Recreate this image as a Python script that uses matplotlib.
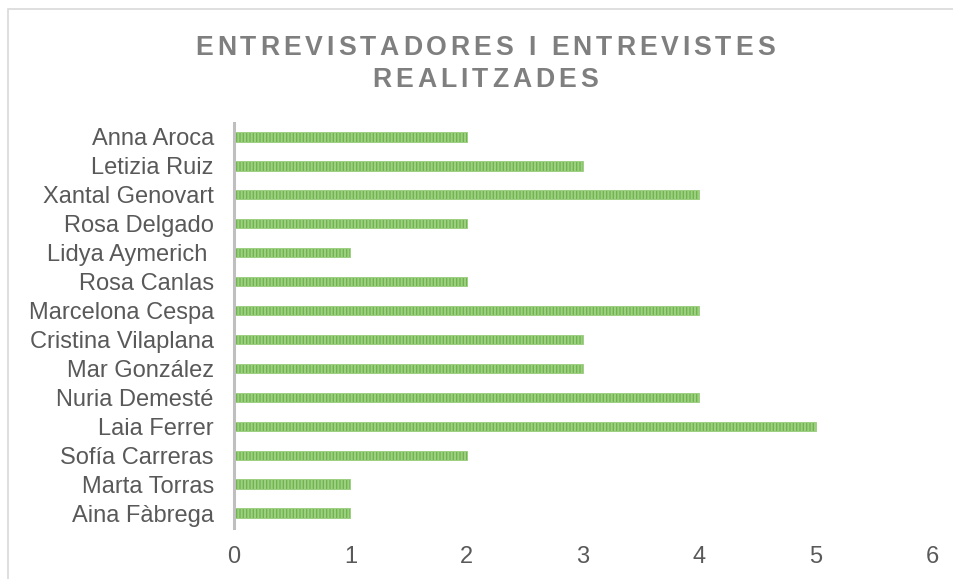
import matplotlib
matplotlib.use("Agg")
import matplotlib.pyplot as plt
from matplotlib.font_manager import FontProperties, findfont, get_font
from matplotlib.patches import Rectangle

names = ["Anna Aroca", "Letizia Ruiz", "Xantal Genovart", "Rosa Delgado",
         "Lidya Aymerich ", "Rosa Canlas", "Marcelona Cespa", "Cristina Vilaplana",
         "Mar González", "Nuria Demesté", "Laia Ferrer", "Sofía Carreras",
         "Marta Torras", "Aina Fàbrega"]
values = [2, 3, 4, 2, 1, 2, 4, 3, 3, 4, 5, 2, 1, 1]
xticks = [0, 1, 2, 3, 4, 5, 6]
title_lines = ["ENTREVISTADORES I ENTREVISTES", "REALITZADES"]

plt.rcParams['font.family'] = ['Liberation Sans', 'DejaVu Sans']
plt.rcParams['hatch.linewidth'] = 1.5
plt.rcParams['hatch.color'] = '#3E8C20'

W, H = 954, 579
fig = plt.figure(figsize=(W / 100, H / 100), dpi=100)

# outer chart frame
fig.patches.append(Rectangle((8 / W, -0.1), 2, (H - 9) / H + 0.1, transform=fig.transFigure,
                             fill=False, edgecolor='#D9D9D9', linewidth=1.2, zorder=0))

ax = fig.add_axes([234 / W, 1 - 527.5 / H, (932 - 234) / W, (527.5 - 122.5) / H])
ypos = list(range(len(names)))
ax.barh(ypos, values, height=0.32, color='#6DB34C', edgecolor='#9CCF80',
        linewidth=0.6, hatch='|||||')
ax.set_ylim(len(names) - 0.5, -0.5)
ax.set_xlim(0, 6)
ax.set_yticks(ypos)
ax.set_yticklabels(names)
ax.set_xticks(xticks)
ax.set_xticklabels([str(t) for t in xticks])
ax.tick_params(axis='both', length=0, labelsize=17, colors='#595959')
ax.tick_params(axis='y', pad=14.5)
ax.tick_params(axis='x', pad=13)
for s in ['top', 'right', 'bottom']:
    ax.spines[s].set_visible(False)
ax.spines['left'].set_color('#BFBFBF')
ax.spines['left'].set_linewidth(2.2)

# letter-spaced title
prop = FontProperties(family='Liberation Sans', weight='bold', size=19.2)
font = get_font(findfont(prop))
font.set_size(19.2, 100)
spacing = 3.9  # px


def advance(c):
    g = font.load_char(ord(c))
    return g.linearHoriAdvance / 65536.0


cx = 485
for line, base in zip(title_lines, [55, 87]):
    widths = [advance(c) for c in line]
    total = sum(widths) + spacing * (len(line) - 1)
    x = cx - total / 2
    for c, w in zip(line, widths):
        fig.text(x / W, 1 - base / H, c, fontproperties=prop, color='#7F7F7F',
                 ha='left', va='baseline')
        x += w + spacing

fig.savefig('out.png', dpi=100)
